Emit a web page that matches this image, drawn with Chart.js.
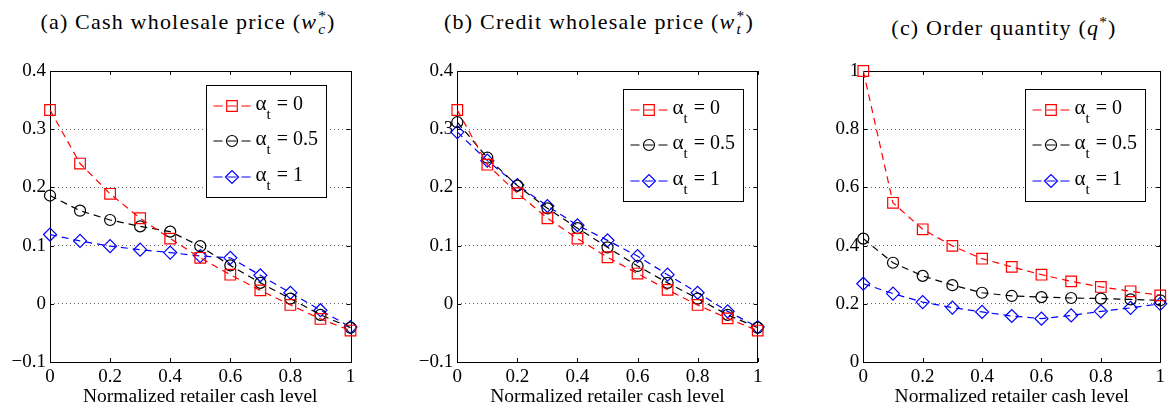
<!DOCTYPE html>
<html><head><meta charset="utf-8">
<script src="https://cdn.jsdelivr.net/npm/chart.js@4.4.1/dist/chart.umd.min.js"></script>
<style>
html,body{margin:0;padding:0;background:#fff;}
#fig{position:relative;width:1169px;height:408px;overflow:hidden;background:#fff;}
canvas{position:absolute;top:0;}
.ttl{position:absolute;top:7px;font-family:"Liberation Serif","Times New Roman",serif;font-size:22px;letter-spacing:1.2px;white-space:nowrap;transform:translateX(-50%);line-height:30px;color:#000;}
.ss{display:inline-block;vertical-align:-0.35em;font-size:0.7em;line-height:0.85em;text-align:left;margin-left:1px;}
.ss span{display:block;}
</style></head>
<body>
<div id="fig">
  <div class="ttl" style="left:188px">(a) Cash wholesale price (<i>w</i><span class="ss"><span>*</span><span><i>c</i></span></span>)</div>
  <div class="ttl" style="left:599px">(b) Credit wholesale price (<i>w</i><span class="ss"><span>*</span><span><i>t</i></span></span>)</div>
  <div class="ttl" style="left:1004px">(c) Order quantity (<i>q</i><sup style="font-size:0.7em">*</sup>)</div>
  <canvas id="pa"></canvas>
  <canvas id="pb"></canvas>
  <canvas id="pc"></canvas>
</div>
<script>
// ---- data ----
const cashLevel = [0, 0.1, 0.2, 0.3, 0.4, 0.5, 0.6, 0.7, 0.8, 0.9, 1];
const alphaLabels = ['0', '0.5', '1'];
const xTickValues = [0, 0.2, 0.4, 0.6, 0.8, 1];
const priceTickValues = [-0.1, 0, 0.1, 0.2, 0.3, 0.4];
const qtyTickValues = [0, 0.2, 0.4, 0.6, 0.8, 1];
const xAxisTitle = 'Normalized retailer cash level';

const cashPriceA0  = [0.333, 0.241, 0.189, 0.147, 0.112, 0.079, 0.050, 0.023, -0.002, -0.026, -0.046];
const cashPriceA05 = [0.186, 0.160, 0.144, 0.133, 0.124, 0.099, 0.066, 0.036, 0.009, -0.019, -0.041];
const cashPriceA1  = [0.119, 0.108, 0.099, 0.093, 0.088, 0.082, 0.079, 0.049, 0.019, -0.011, -0.040];

const creditPriceA0  = [0.333, 0.239, 0.190, 0.147, 0.112, 0.080, 0.052, 0.024, -0.002, -0.025, -0.046];
const creditPriceA05 = [0.312, 0.251, 0.203, 0.164, 0.130, 0.097, 0.065, 0.036, 0.009, -0.019, -0.041];
const creditPriceA1  = [0.295, 0.246, 0.204, 0.168, 0.135, 0.109, 0.082, 0.050, 0.019, -0.013, -0.040];

const orderQtyA0  = [1.000, 0.547, 0.456, 0.399, 0.355, 0.327, 0.300, 0.277, 0.258, 0.243, 0.229];
const orderQtyA05 = [0.424, 0.341, 0.296, 0.264, 0.238, 0.227, 0.223, 0.220, 0.218, 0.215, 0.212];
const orderQtyA1  = [0.269, 0.235, 0.206, 0.187, 0.172, 0.158, 0.149, 0.160, 0.174, 0.186, 0.200];

// ---- styles ----
const FONT = '"Liberation Serif","Times New Roman",serif';
const seriesStyles = [
  {color: '#ff0000', pointStyle: 'rect', radius: 7.5},
  {color: '#000000', pointStyle: 'circle', radius: 5.5},
  {color: '#0000ff', pointStyle: 'rectRot', radius: 6.5}
];

function fmt(v) {
  const r = Math.round(v * 10) / 10;
  return r < 0 ? '\u2212' + String(Math.abs(r)) : String(r);
}

function drawMarker(ctx, st, x, y) {
  if (Chart.helpers && Chart.helpers.drawPoint) {
    ctx.strokeStyle = st.color; ctx.fillStyle = 'rgba(0,0,0,0)'; ctx.lineWidth = 1.2; ctx.setLineDash([]);
    Chart.helpers.drawPoint(ctx, {pointStyle: st.pointStyle, radius: st.radius, rotation: 0, borderWidth: 1.2}, x, y);
  }
}

const frameTicks = {
  id: 'frameTicks',
  beforeDatasetsDraw(chart) {
    const {ctx, chartArea: a, scales} = chart;
    ctx.save();
    ctx.strokeStyle = '#000'; ctx.lineWidth = 1; ctx.setLineDash([]);
    ctx.strokeRect(Math.round(a.left) + 0.5, Math.round(a.top) + 0.5, Math.round(a.right - a.left), Math.round(a.bottom - a.top));
    const L = 4;
    ctx.beginPath();
    scales.x.ticks.forEach(t => {
      const px = Math.round(scales.x.getPixelForValue(t.value)) + 0.5;
      ctx.moveTo(px, a.bottom); ctx.lineTo(px, a.bottom - L);
      ctx.moveTo(px, a.top); ctx.lineTo(px, a.top + L);
    });
    scales.y.ticks.forEach(t => {
      const py = Math.round(scales.y.getPixelForValue(t.value)) + 0.5;
      ctx.moveTo(a.left, py); ctx.lineTo(a.left + L, py);
      ctx.moveTo(a.right, py); ctx.lineTo(a.right - L, py);
    });
    ctx.stroke();
    ctx.restore();
  }
};

const mLegend = {
  id: 'mLegend',
  afterDraw(chart, args, opts) {
    const {ctx, chartArea: a} = chart;
    const b = opts.box;
    const left = Math.round(a.right - b.right - b.width) + 0.5;
    const top = Math.round(a.top + b.top) + 0.5;
    ctx.save();
    ctx.fillStyle = '#fff';
    ctx.fillRect(left, top, b.width, b.height);
    ctx.strokeStyle = '#000'; ctx.lineWidth = 1; ctx.setLineDash([]);
    ctx.strokeRect(left, top, b.width, b.height);
    chart.data.datasets.forEach((ds, i) => {
      const st = seriesStyles[i];
      const y = Math.round(top + 20 + i * 35.5);
      ctx.strokeStyle = st.color; ctx.lineWidth = 1.2; ctx.setLineDash([]);
      ctx.beginPath();
      ctx.moveTo(left + 7, y); ctx.lineTo(left + 16, y);
      ctx.moveTo(left + 21, y); ctx.lineTo(left + 30, y);
      ctx.moveTo(left + 35, y); ctx.lineTo(left + 44, y);
      ctx.stroke();
      drawMarker(ctx, st, left + 25.5, y);
      ctx.fillStyle = '#000';
      ctx.textBaseline = 'alphabetic'; ctx.textAlign = 'left';
      ctx.font = '21px ' + FONT;
      let x = left + 49;
      ctx.fillText('\u03b1', x, y + 4);
      x += ctx.measureText('\u03b1').width;
      ctx.font = '15px ' + FONT;
      ctx.fillText('t', x, y + 13);
      x += ctx.measureText('t').width + 1;
      ctx.font = '20px ' + FONT;
      ctx.fillText(' = ' + ds.alphaLabel, x, y + 4);
    });
    ctx.restore();
  }
};

function makePanel(id, seriesValues, yTicks, yMin, yMax, geom, legendBox) {
  const canvas = document.getElementById(id);
  canvas.style.left = geom.left + 'px';
  canvas.width = geom.width; canvas.height = 408;
  canvas.style.width = geom.width + 'px'; canvas.style.height = '408px';
  return new Chart(canvas, {
    type: 'line',
    data: {
      datasets: seriesValues.map((vals, i) => {
        const st = seriesStyles[i];
        return {
          label: '\u03b1t = ' + alphaLabels[i],
          alphaLabel: alphaLabels[i],
          data: cashLevel.map((x, j) => ({x: x, y: vals[j]})),
          borderColor: st.color,
          backgroundColor: 'rgba(0,0,0,0)',
          borderWidth: 1.2,
          borderDash: [7, 5],
          pointStyle: st.pointStyle,
          pointRadius: st.radius,
          pointBorderColor: st.color,
          pointBackgroundColor: 'rgba(0,0,0,0)',
          pointBorderWidth: 1.2,
          tension: 0,
          clip: false,
          fill: false
        };
      })
    },
    options: {
      responsive: false, animation: false, devicePixelRatio: 1,
      layout: {padding: {left: 0, right: geom.padRight, top: 71, bottom: 0}},
      plugins: {legend: {display: false}, tooltip: {enabled: false}, mLegend: {box: legendBox}},
      scales: {
        x: {
          type: 'linear', min: 0, max: 1,
          afterBuildTicks: s => { s.ticks = xTickValues.map(v => ({value: v})); },
          afterFit: s => { s.height = 46; },
          grid: {display: false, drawTicks: false},
          border: {display: false},
          ticks: {padding: 4, color: '#000', font: {family: FONT, size: 19}, callback: v => fmt(v), maxRotation: 0, autoSkip: false},
          title: {display: true, text: xAxisTitle, color: '#000', font: {family: FONT, size: 19.5, lineHeight: 1.1}, padding: {top: 0, bottom: 0}}
        },
        y: {
          type: 'linear', min: yMin, max: yMax,
          afterBuildTicks: s => { s.ticks = yTicks.map(v => ({value: v})); },
          afterFit: s => { s.width = geom.yAxisWidth; },
          grid: {display: true, drawTicks: false, color: '#666', lineWidth: 1},
          border: {display: false, dash: [1, 3]},
          ticks: {padding: 4, color: '#000', font: {family: FONT, size: 19}, callback: v => fmt(v)}
        }
      }
    },
    plugins: [frameTicks, mLegend]
  });
}

makePanel('pa', [cashPriceA0, cashPriceA05, cashPriceA1], priceTickValues, -0.1, 0.4,
  {left: 0, width: 390, yAxisWidth: 50, padRight: 39.5}, {right: 25, top: 14, width: 120, height: 112});
makePanel('pb', [creditPriceA0, creditPriceA05, creditPriceA1], priceTickValues, -0.1, 0.4,
  {left: 390, width: 390, yAxisWidth: 67.3, padRight: 22.3}, {right: 15, top: 18, width: 120, height: 112});
makePanel('pc', [orderQtyA0, orderQtyA05, orderQtyA1], qtyTickValues, 0, 1,
  {left: 780, width: 389, yAxisWidth: 83.3, padRight: 4.7}, {right: 15, top: 18, width: 120, height: 112});
</script>
</body></html>
